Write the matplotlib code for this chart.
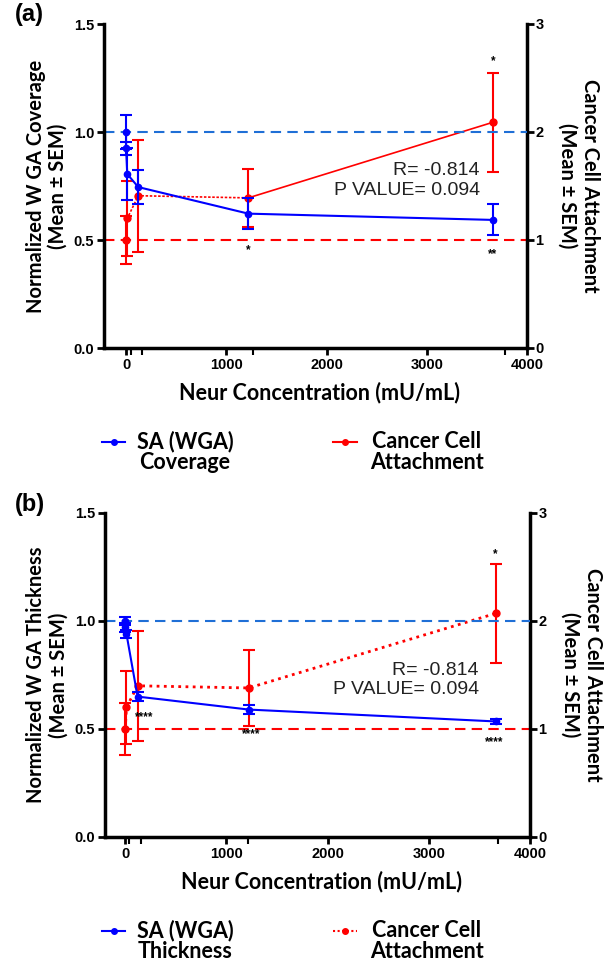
import matplotlib.pyplot as plt
from matplotlib.lines import Line2D

plt.rcParams['font.family'] = ['Liberation Sans', 'DejaVu Sans']

# concentrations (mU/mL)
conc_blue = [0, 0, 12.2, 122, 1220, 3660]
conc_red = [0, 12.2, 122, 1220, 3660]

# normalized WGA (left axis)
wga_cov = [1.00, 0.925, 0.805, 0.745, 0.622, 0.593]
wga_cov_err = [0.08, 0.03, 0.12, 0.08, 0.072, 0.072]
wga_thk = [1.00, 0.97, 0.94, 0.65, 0.59, 0.535]
wga_thk_err = [0.02, 0.02, 0.02, 0.02, 0.022, 0.012]

# cancer cell attachment (right axis)
attach_a = [1.0, 1.2, 1.41, 1.39, 2.09]
attach_a_err = [0.22, 0.35, 0.52, 0.27, 0.46]
attach_b = [1.0, 1.2, 1.40, 1.38, 2.07]
attach_b_err = [0.24, 0.34, 0.51, 0.35, 0.46]

minor_a = [50, 160, 1270, 3780]
minor_b = [40, 158, 1218, 3683]

# significance marks (x, y on left axis, text)
sig_a = [(1220, 0.455, '*'), (3660, 0.435, '**'), (3660, 1.33, '*')]
sig_b = [(190, 0.555, '****'), (1240, 0.475, '****'), (3650, 0.44, '****'), (3660, 1.31, '*')]

stats = "R= -0.814\nP VALUE= 0.094"

LABEL_FONT = 'Lato'
BLUE = '#0000ff'
RED = '#ff0000'


def draw_panel(fig, rect, xlim, wga, wga_err, att, att_err, red_ls, ylab, minor, sig,
               stat_xy, tag, leg_names, bottom_px):
    ax = fig.add_axes(rect)
    ax2 = ax.twinx()
    ax.set_zorder(ax2.get_zorder() + 1)
    ax.patch.set_visible(False)

    ax.axhline(1.0, color='#1f6fd6', ls=(0, (5, 3)), lw=1.5, zorder=1)
    ax2.axhline(1.0, color=RED, ls=(0, (5, 3)), lw=1.5, zorder=1)

    # red: cancer cell attachment on right axis
    ax2.errorbar(conc_red, att, yerr=att_err, fmt='none', ecolor=RED,
                 elinewidth=1.5, capsize=4, capthick=1.5)
    if red_ls == 'mixed':
        ax2.plot(conc_red[:4], att[:4], color=RED, ls=(0, (1.5, 1)), lw=1.2)
        ax2.plot(conc_red[3:], att[3:], color=RED, ls='-', lw=1.2)
    else:
        ax2.plot(conc_red, att, color=RED, ls=(0, (1, 1.6)), lw=2)
    ax2.plot(conc_red, att, ls='none', marker='o', ms=5, color=RED)

    # blue: WGA on left axis
    ax.errorbar(conc_blue, wga, yerr=wga_err, color=BLUE, marker='o', ms=4.5,
                lw=1.5, elinewidth=1.5, capsize=4, capthick=1.5)

    ax.set_xlim(*xlim)
    ax.set_ylim(0, 1.5)
    ax2.set_ylim(0, 3)
    ax.set_xticks([0, 1000, 2000, 3000, 4000])
    ax.set_xticks(minor, minor=True)
    ax.set_yticks([0, 0.5, 1.0, 1.5])
    ax.set_yticklabels(['0.0', '0.5', '1.0', '1.5'])
    ax2.set_yticks([0, 1, 2, 3])

    for a in (ax, ax2):
        a.spines['top'].set_visible(False)
        for s in a.spines.values():
            s.set_linewidth(2.5)
    ax.spines['right'].set_visible(False)
    ax2.spines['left'].set_visible(False)
    ax2.spines['bottom'].set_visible(False)

    ax.tick_params(axis='both', which='major', width=2, length=5, labelsize=10.5, pad=2)
    ax.tick_params(axis='x', which='minor', width=1.5, length=5)
    ax2.tick_params(axis='y', width=2, length=5, labelsize=10.5, pad=1)
    for lbl in ax.get_xticklabels() + ax.get_yticklabels() + ax2.get_yticklabels():
        lbl.set_fontweight('bold')

    ax.set_xlabel('Neur Concentration (mU/mL)', family=LABEL_FONT, weight='bold', fontsize=15.5)
    ax.xaxis.set_label_coords(0.51, -0.105)
    ax.text(-0.135, 0.5, ylab + '\n(Mean ± SEM)', transform=ax.transAxes, rotation=90,
            ha='center', va='center', family=LABEL_FONT, weight='bold', fontsize=14.5,
            linespacing=1.15)
    ax.text(1.122, 0.5, 'Cancer Cell Attachment\n(Mean ± SEM)', transform=ax.transAxes,
            rotation=270, ha='center', va='center', family=LABEL_FONT, weight='bold',
            fontsize=14.5, linespacing=1.15)

    ax.text(stat_xy[0], stat_xy[1], stats, ha='right', va='center', fontsize=14,
            color='#222222', linespacing=1.2)
    for x, y, t in sig:
        ax.text(x, y, t, ha='center', va='center', fontsize=8.5, weight='bold')

    fig.text(15 / 609, 1 - (bottom_px - 333) / 961, tag, ha='left', va='center',
             fontsize=17, weight='bold')

    # legend below
    y1 = 1 - (bottom_px + 94) / 961
    yc = 1 - (bottom_px + 104) / 961
    ls_b = '-'
    ls_r = '-' if red_ls == 'mixed' else (0, (1, 1.2))
    for (x0, x1, xt, col, ls, name) in [(102, 125, 185, BLUE, ls_b, leg_names[0]),
                                        (333, 357, 427, RED, ls_r, leg_names[1])]:
        fig.add_artist(Line2D([x0 / 609, (x0 + x1) / 2 / 609, x1 / 609], [y1, y1, y1],
                              transform=fig.transFigure, color=col, ls=ls, lw=1.5,
                              marker='o', ms=4, markevery=[1]))
        fig.text(xt / 609, yc, name, ha='center', va='center', family=LABEL_FONT,
                 weight='bold', fontsize=15.5, linespacing=0.98)
    return ax


fig = plt.figure(figsize=(6.09, 9.61), dpi=100)
draw_panel(fig, [104 / 609, 1 - 348 / 961, 423 / 609, 324 / 961], (-220, 4000),
           wga_cov, wga_cov_err, attach_a, attach_a_err, 'mixed',
           'Normalized W GA Coverage', minor_a, sig_a, (3530, 0.775), '(a)',
           ['SA (WGA)\nCoverage', 'Cancer Cell\nAttachment'], 348)
draw_panel(fig, [105 / 609, 1 - 837 / 961, 425 / 609, 324 / 961], (-200, 4000),
           wga_thk, wga_thk_err, attach_b, attach_b_err, 'dotted',
           'Normalized W GA Thickness', minor_b, sig_b, (3495, 0.727), '(b)',
           ['SA (WGA)\nThickness', 'Cancer Cell\nAttachment'], 837)

fig.savefig('out.png', dpi=100)
